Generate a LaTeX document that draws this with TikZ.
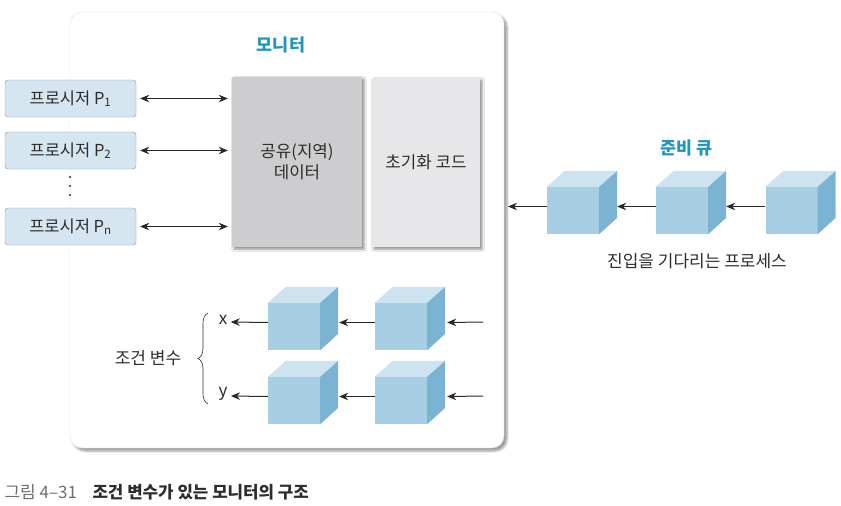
\documentclass[tikz,border=0pt]{standalone}
\usepackage{fontspec}
\setmainfont{Noto Sans CJK KR}
\usetikzlibrary{arrows.meta,shadows.blur,decorations.pathreplacing,positioning}

\definecolor{monitorblue}{RGB}{30,150,190}
\definecolor{procfill}{RGB}{214,230,240}
\definecolor{procline}{RGB}{135,145,155}
\definecolor{sharedfill}{RGB}{205,205,208}
\definecolor{initfill}{RGB}{231,231,233}
\definecolor{cubefrontc}{RGB}{168,206,228}
\definecolor{cubetopc}{RGB}{205,228,240}
\definecolor{cubesidec}{RGB}{122,180,210}
\definecolor{arrowgray}{RGB}{40,40,40}
\definecolor{textgray}{RGB}{45,45,45}
\definecolor{captiongray}{RGB}{110,110,110}

\tikzset{
  procbox/.style={draw=procline, fill=procfill, rounded corners=3pt,
    minimum width=131pt, minimum height=37pt, inner sep=0pt,
    font=\fontsize{16.5}{19}\selectfont, text=textgray},
  codebox/.style={fill=#1, inner sep=0pt, align=center,
    blur shadow={shadow xshift=2pt, shadow yshift=-2pt, shadow blur steps=4, shadow opacity=45},
    font=\fontsize{16.8}{21}\selectfont, text=textgray},
  cubefront/.style={fill=cubefrontc, minimum width=52pt, minimum height=47pt, inner sep=0pt},
  flow/.style={-{Stealth[length=9pt,width=7.5pt]}, line width=1pt, draw=arrowgray},
  biflow/.style={{Stealth[length=9pt,width=7.5pt]}-{Stealth[length=9pt,width=7.5pt]},
    line width=1pt, draw=arrowgray, shorten <=4pt, shorten >=4pt},
  label/.style={font=\fontsize{17}{20}\selectfont, text=textgray},
  title/.style={font=\fontsize{17.4}{20}\selectfont\bfseries, text=monitorblue},
}

% top and right faces of a cube, drawn from its front node
\newcommand{\cubefaces}[1]{%
  \fill[cubetopc] (#1.north west) -- ++(18,-16) -- ++(52,0) -- (#1.north east) -- cycle;
  \fill[cubesidec] (#1.north east) -- ++(18,-16) -- ++(0,47) -- (#1.south east) -- cycle;
}

\begin{document}
\begin{tikzpicture}[x=1pt,y=-1pt]
  \useasboundingbox (0,0) rectangle (841,506);

  % --- Monitor panel ---
  \path[fill=white, draw=gray!25, rounded corners=12pt,
    blur shadow={shadow xshift=3pt, shadow yshift=-3pt, shadow blur steps=6, shadow opacity=40}]
    (70,12) rectangle (504,448);
  \node[title] (montitle) at (281,45) {모니터};

  % --- Processes ---
  \node[procbox] (p1) at (70.5,98.5) {프로시저 P\textsubscript{1}};
  \node[procbox] (p2) at (70.5,150.5) {프로시저 P\textsubscript{2}};
  \coordinate (dots) at (70,186);
  \foreach \dy in {-9,0,9}
    \fill[textgray] ([yshift=\dy pt]dots) circle (1.1pt);
  \node[procbox] (pn) at (70.5,226.5) {프로시저 P\textsubscript{n}};

  % --- Shared data and init code ---
  \node[codebox=sharedfill, minimum width=130pt, minimum height=170pt] (shared) at (297,162)
    {공유(지역)\\데이터};
  \node[codebox=initfill, minimum width=108pt, minimum height=169pt] (init) at (426,162.5)
    {초기화 코드};

  \draw[biflow] (p1.east) -- (p1.east -| shared.west);
  \draw[biflow] (p2.east) -- (p2.east -| shared.west);
  \draw[biflow] (pn.east) -- (pn.east -| shared.west);

  % --- Ready queue ---
  \node[title] (qtitle) at (686,148) {준비 큐};
  \node[cubefront] (r1) at (573,210.5) {};
  \node[cubefront] (r2) at (682,210.5) {};
  \node[cubefront] (r3) at (791.5,210.5) {};
  \cubefaces{r1}
  \cubefaces{r2}
  \cubefaces{r3}
  \coordinate (entry) at (508,206.5);
  \draw[flow] ([yshift=4pt]r1.west) -- (entry);
  \draw[flow] ([yshift=4pt]r2.west) -- ([xshift=18pt,yshift=4pt]r1.east);
  \draw[flow] ([yshift=4pt]r3.west) -- ([xshift=18pt,yshift=4pt]r2.east);
  \node[label] (waiting) at (697,261) {진입을 기다리는 프로세스};

  % --- Condition variables ---
  \node[label] (lx) at (223,320) {x};
  \node[label] (ly) at (223,394) {y};
  \node[cubefront] (x1) at (294,326.5) {};
  \node[cubefront] (x2) at (401,326.5) {};
  \node[cubefront] (y1) at (294,400.5) {};
  \node[cubefront] (y2) at (401,400.5) {};
  \cubefaces{x1}
  \cubefaces{x2}
  \cubefaces{y1}
  \cubefaces{y2}
  \coordinate (xin) at (483,322);
  \coordinate (yin) at (483,396);
  \draw[flow] ([yshift=4pt]x1.west) -- (lx.east |- xin);
  \draw[flow] ([yshift=4pt]x2.west) -- ([xshift=19pt,yshift=4pt]x1.east);
  \draw[flow] (xin) -- ([xshift=20pt,yshift=4pt]x2.east);
  \draw[flow] ([yshift=4pt]y1.west) -- (ly.east |- yin);
  \draw[flow] ([yshift=4pt]y2.west) -- ([xshift=19pt,yshift=4pt]y1.east);
  \draw[flow] (yin) -- ([xshift=20pt,yshift=4pt]y2.east);

  \draw[decorate, decoration={brace, amplitude=10pt}, line width=0.6pt, draw=textgray]
    (208,404) -- (208,313);
  \node[label] (condvar) at (148,358) {조건 변수};

  % --- Caption ---
  \node[anchor=west, font=\fontsize{17}{20}\selectfont, text=captiongray] (capnum) at (1,492)
    {그림 4–31};
  \node[anchor=west, font=\fontsize{16.8}{20}\selectfont\bfseries, text=textgray] (captext) at (89,492)
    {조건 변수가 있는 모니터의 구조};
\end{tikzpicture}
\end{document}
